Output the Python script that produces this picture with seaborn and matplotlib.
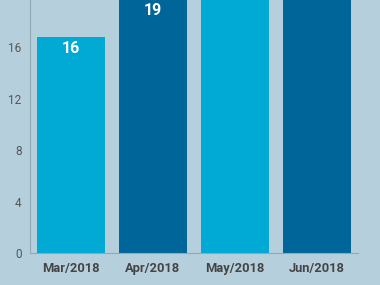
import matplotlib
matplotlib.use("Agg")
import matplotlib.pyplot as plt
import seaborn as sns
import pandas as pd
import math

months = ["Mar/2018", "Apr/2018", "May/2018", "Jun/2018"]
counts = [16.8, 19.75, 24.0, 24.0]
bar_colors = ["#00aad4", "#006699", "#00aad4", "#006699"]
y_ticks = [0, 4, 8, 12, 16]

bg = "#b5d0dc"
sns.set_theme(style="white")
plt.rcParams["font.family"] = ["Roboto", "DejaVu Sans"]

df = pd.DataFrame({"month": months, "count": counts})

fig = plt.figure(figsize=(3.8, 2.85), dpi=100, facecolor=bg)
ymax = 25.0
px_per_unit = 12.875
bottom_px = 285 - 253.3
h_px = ymax * px_per_unit
ax = fig.add_axes([30 / 380, bottom_px / 285, 328 / 380, h_px / 285])
ax.set_facecolor(bg)

sns.barplot(data=df, x="month", y="count", hue="month", palette=bar_colors,
            width=0.84, legend=False, ax=ax, saturation=1, linewidth=0, edgecolor="none")

ax.set_xlim(-0.5, 3.5)
ax.set_ylim(0, ymax)
ax.set_yticks(y_ticks)
ax.set_yticklabels([str(t) for t in y_ticks], fontsize=8.5, color="#555555")
ax.tick_params(axis="y", length=0, pad=6)
ax.tick_params(axis="x", length=0, pad=6)
for lbl in ax.get_xticklabels():
    lbl.set_fontsize(9.3)
    lbl.set_fontweight("bold")
    lbl.set_color("#444444")
ax.set_xlabel("")
ax.set_ylabel("")

for s in ["top", "right"]:
    ax.spines[s].set_visible(False)
for s in ["left", "bottom"]:
    ax.spines[s].set_color("#8fa9b5")
    ax.spines[s].set_linewidth(0.8)

# value labels; those above the visible frame are not shown (as in the reference)
visible_top = 253.3 / px_per_unit
for i, v in enumerate(counts):
    if v - 11 / px_per_unit > visible_top:
        continue
    ax.annotate(str(math.floor(v)), (i, v), xytext=(0, -11), textcoords="offset pixels",
                ha="center", va="center", color="white", fontsize=11.5, fontweight="bold")

fig.savefig("out.png", dpi=100, facecolor=bg)
